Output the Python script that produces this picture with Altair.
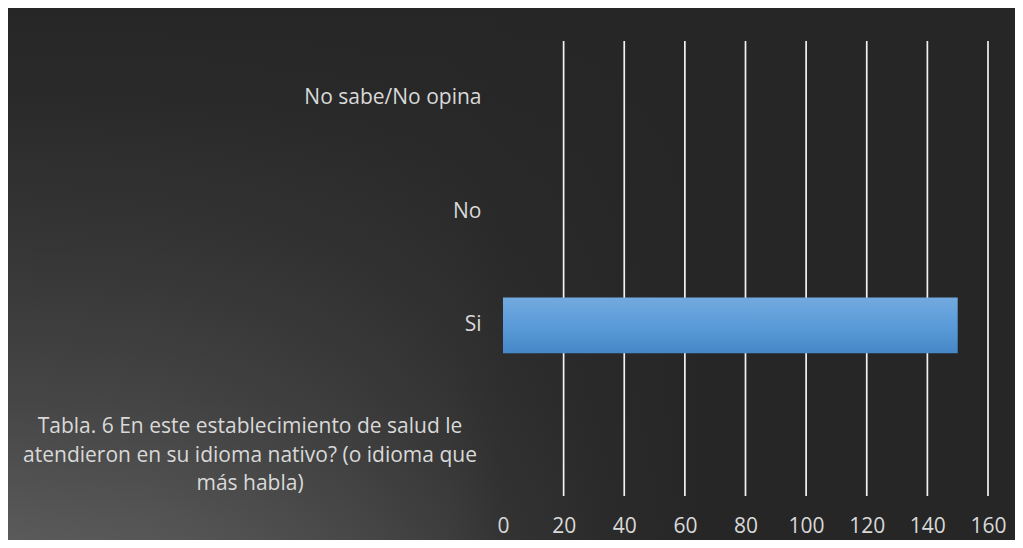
import altair as alt
import pandas as pd

# ---- data ----
categories = [
    "No sabe/No opina",
    "No",
    "Si",
    "Tabla. 6 En este establecimiento de salud le\natendieron en su idioma nativo? (o idioma que\nmás habla)",
]
values = [0, 0, 150, 0]
grid_values = [20, 40, 60, 80, 100, 120, 140, 160]
tick_labels = [0, 20, 40, 60, 80, 100, 120, 140, 160]

df = pd.DataFrame({"cat": categories, "val": values})
df_grid = pd.DataFrame({"val": grid_values})
df_title = df[df["cat"].str.startswith("Tabla")]

FONT = "Open Sans"
FS = 21
LABEL = "#d9d9d9"

W, H = 485, 455
PAD = {"left": 495, "top": 33, "right": 27, "bottom": 44}

x_scale = alt.Scale(domain=[0, 160], nice=False, zero=True)
x_axis = alt.Axis(
    values=tick_labels, grid=False, domain=False, ticks=False, tickSize=0,
    labelPadding=19, labelFlush=False, labelOverlap=False, format="d",
    labelFont=FONT, labelFontSize=FS, labelColor=LABEL, title=None, zindex=1,
)
y_scale = alt.Scale(domain=categories, paddingInner=0.51, paddingOuter=0.255)
y_axis = alt.Axis(
    grid=False, domain=False, ticks=False, tickSize=0, labelPadding=22,
    labelFont=FONT, labelFontSize=FS, labelColor=LABEL, title=None, zindex=1,
    labelExpr="indexof(datum.label, 'Tabla') == 0 ? '' : datum.label",
    labelLimit=0,
)

full = dict(
    x=alt.value(-PAD["left"]), x2=alt.value(W + PAD["right"]),
    y=alt.value(-PAD["top"]), y2=alt.value(H + PAD["bottom"]),
)

# background: vertical lightening toward the bottom ...
bg_v = alt.Chart(alt.Data(values=[{"a": 1}])).mark_rect(
    color=alt.LinearGradient(
        gradient="linear", x1=0, y1=0, x2=0, y2=1,
        stops=[
            alt.GradientStop(offset=0, color="#262626"),
            alt.GradientStop(offset=0.17, color="#2a2a2a"),
            alt.GradientStop(offset=0.455, color="#363636"),
            alt.GradientStop(offset=0.74, color="#464646"),
            alt.GradientStop(offset=1, color="#5a5a5a"),
        ],
    )
).encode(**full)

# ... darkened again toward the right
bg_h = alt.Chart(alt.Data(values=[{"a": 1}])).mark_rect(
    color=alt.LinearGradient(
        gradient="linear", x1=0, y1=0, x2=1, y2=0,
        stops=[
            alt.GradientStop(offset=0, color="rgba(38,38,38,0)"),
            alt.GradientStop(offset=0.14, color="rgba(38,38,38,0.06)"),
            alt.GradientStop(offset=0.24, color="rgba(38,38,38,0.18)"),
            alt.GradientStop(offset=0.34, color="rgba(38,38,38,0.34)"),
            alt.GradientStop(offset=0.44, color="rgba(38,38,38,0.56)"),
            alt.GradientStop(offset=0.49, color="rgba(38,38,38,0.74)"),
            alt.GradientStop(offset=0.59, color="rgba(38,38,38,0.9)"),
            alt.GradientStop(offset=0.69, color="rgba(38,38,38,1)"),
            alt.GradientStop(offset=1, color="rgba(38,38,38,1)"),
        ],
    )
).encode(**full)

grid = alt.Chart(df_grid).mark_rule(color="#f2f2f2", strokeWidth=1.7).encode(
    x=alt.X("val:Q", scale=x_scale, axis=x_axis),
)

bars = alt.Chart(df).mark_bar(
    color=alt.LinearGradient(
        gradient="linear", x1=0, y1=0, x2=0, y2=1,
        stops=[
            alt.GradientStop(offset=0, color="#72aadf"),
            alt.GradientStop(offset=0.5, color="#5b9bd9"),
            alt.GradientStop(offset=1, color="#4587c7"),
        ],
    )
).encode(
    x=alt.X("val:Q", scale=x_scale, axis=x_axis),
    y=alt.Y("cat:N", scale=y_scale, axis=y_axis, sort=categories),
)

title_label = alt.Chart(df_title).mark_text(
    align="center", baseline="middle", lineBreak="\n", lineHeight=28.5,
    font=FONT, fontSize=FS, color=LABEL, dy=-12,
).encode(
    x=alt.value(-253),
    y=alt.Y("cat:N", scale=y_scale, axis=y_axis, sort=categories),
    text="cat:N",
)

chart = alt.layer(bg_v, bg_h, grid, bars, title_label).properties(
    width=W, height=H, padding=PAD,
    autosize=alt.AutoSizeParams(type="none"),
    background="#262626",
).configure_view(stroke=None)

chart.save("out.html", embed_options={"renderer": "svg", "actions": False})
